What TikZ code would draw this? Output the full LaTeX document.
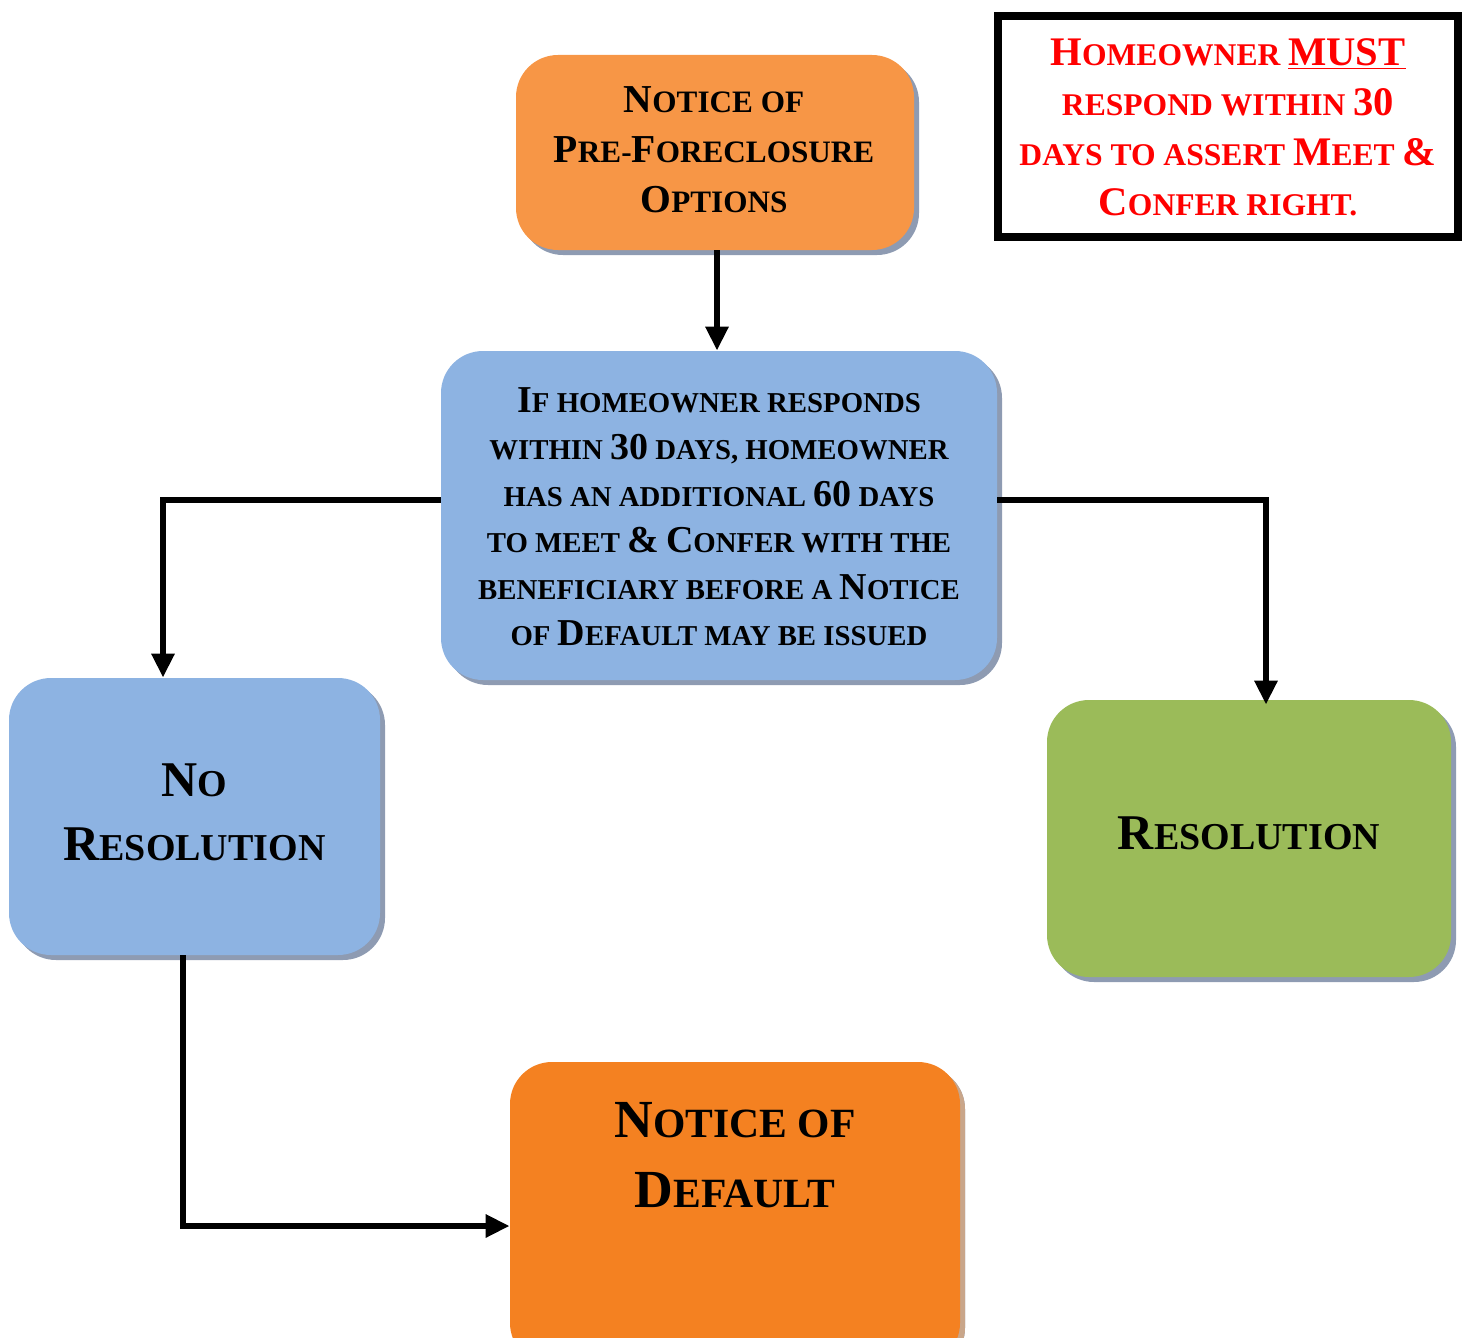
\documentclass[tikz,border=0pt]{standalone}
\usepackage{fontspec}
\setmainfont{Liberation Serif}
\usetikzlibrary{arrows.meta,shadows}
\definecolor{orangeA}{HTML}{F79646}
\definecolor{orangeB}{HTML}{F48121}
\definecolor{blueA}{HTML}{8DB3E2}
\definecolor{greenA}{HTML}{9BBB59}
\definecolor{shadowA}{HTML}{8E9BB2}
\definecolor{shadowB}{HTML}{C9A68A}
\definecolor{redA}{HTML}{FF0000}
\def\capsz{20pt}
\newcommand\B[1]{{\fontsize{\capsz}{\capsz}\selectfont #1}}
\tikzset{
  boxA/.style={rounded corners=21pt, inner sep=0pt,
    drop shadow={shadow xshift=2.5pt,shadow yshift=-2.5pt,fill=shadowA,opacity=1}},
  txt/.style n args={3}{align=center, inner sep=0pt,
    font={\bfseries\fontsize{#1}{#2}\selectfont\def\capsz{#3}}},
  arr/.style={line width=3pt, -{Triangle[width=11pt,length=12pt]}},
}
\begin{document}
\begin{tikzpicture}[x=0.5pt,y=-0.5pt]
\useasboundingbox (0,0) rectangle (1468,1338);
% boxes
\node[boxA, fill=orangeA, minimum width=199pt, minimum height=97.5pt] (top) at (715,152.5) {};
\node[boxA, fill=blueA, minimum width=278pt, minimum height=164.5pt] (mid) at (719,515.5) {};
\node[boxA, fill=blueA, minimum width=185.5pt, minimum height=138.5pt] (nores) at (194.5,816.5) {};
\node[boxA, fill=greenA, minimum width=202pt, minimum height=138.5pt] (res) at (1249,838.5) {};
\node[boxA, fill=orangeB, minimum width=225pt, minimum height=151.5pt,
  drop shadow={shadow xshift=2.5pt,shadow yshift=-2.5pt,fill=shadowB,opacity=1}] (nod) at (735,1213.5) {};
\node[draw=black, line width=4pt, minimum width=230pt, minimum height=110.5pt, inner sep=0pt] (warn) at (1228,126.5) {};
% texts
\node[txt={15.6pt}{25pt}{19.8pt}] (toptxt) at (714,150)
{{\B N}OTICE OF\\ {\B P}RE-{\B F}ORECLOSURE\\ {\B O}PTIONS};
\node[txt={14.4pt}{23.3pt}{19pt}] (midtxt) at (719,517)
{{\B I}F HOMEOWNER RESPONDS\\
WITHIN {\B{30}} DAYS, HOMEOWNER\\
HAS AN ADDITIONAL {\B{60}} DAYS\\
TO MEET {\B{\&}} {\B C}ONFER WITH THE\\
BENEFICIARY BEFORE A {\B N}OTICE\\
OF {\B D}EFAULT MAY BE ISSUED};
\node[txt={19pt}{32pt}{25pt}] (norestxt) at (194.5,812)
{{\B N}O\\ {\B R}ESOLUTION};
\node[txt={19pt}{32pt}{25pt}] (restxt) at (1249,833)
{{\B R}ESOLUTION};
\node[txt={20.8pt}{35pt}{26.8pt}] (nodtxt) at (735,1155)
{{\B N}OTICE OF\\ {\B D}EFAULT};
\node[txt={15.8pt}{25pt}{20.3pt}, text=redA] (warntxt) at (1228,127)
{{\B H}OMEOWNER {\B{\underline{MUST}}}\\
RESPOND WITHIN {\B{30}}\\
DAYS TO ASSERT {\B M}EET {\B{\&}}\\
{\B C}ONFER RIGHT.};
% connectors
\draw[arr] ([xshift=1pt]top.south) -- ([xshift=1pt]top.south |- mid.north);
\draw[arr] ([yshift=7.75pt]mid.west) -| ([xshift=-15.75pt]nores.north);
\draw[arr] ([yshift=7.75pt]mid.east) -| ([xshift=8.5pt,yshift=-2.5pt]res.north);
\draw[arr] ([xshift=-5.75pt]nores.south) |- ([yshift=-6.25pt]nod.west);
\end{tikzpicture}
\end{document}
